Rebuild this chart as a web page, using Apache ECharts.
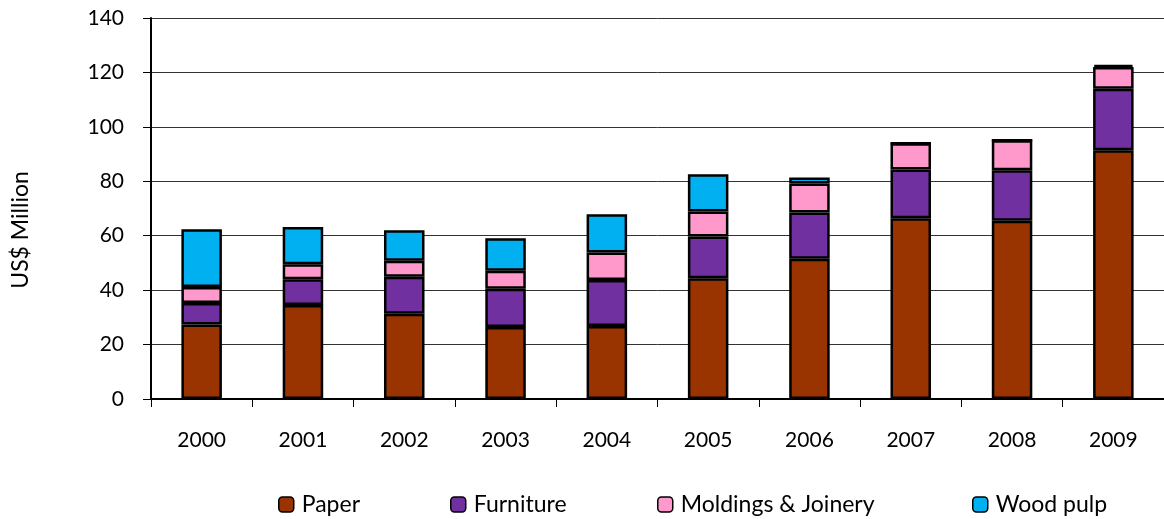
<!DOCTYPE html>
<html lang="en">
<head>
    <meta charset="UTF-8">
    <title>Exports</title>
    <script src="https://cdn.jsdelivr.net/npm/echarts@6/dist/echarts.min.js"></script>
    <style>
        html, body { margin: 0; padding: 0; background: #fff; }
    </style>
</head>
<body>
    <div id="main" style="width: 1164px;height:519px;"></div>
</body>
<script>
    // years on the x axis
    var years = ['2000', '2001', '2002', '2003', '2004', '2005', '2006', '2007', '2008', '2009'];
    // US$ Million
    var paper = [27.4, 34.5, 31.3, 26.5, 26.8, 44.4, 51.5, 66.4, 65.5, 91.4];
    var furniture = [7.9, 9.5, 13.6, 14.0, 16.9, 15.3, 17.0, 17.9, 18.6, 22.6];
    var moldings = [5.9, 5.5, 5.9, 6.6, 10.1, 9.2, 10.7, 9.7, 11.0, 8.0];
    var woodPulp = [21.2, 13.7, 11.2, 12.0, 14.1, 13.7, 2.2, 0, 0, 0.8];

    var names = ['Paper', 'Furniture', 'Moldings & Joinery', 'Wood pulp'];
    var colors = ['#993300', '#7030A0', '#FF99CC', '#00B0F0'];
    var legendLeft = [278, 450, 657, 972];

    var font = 'Lato, "Open Sans", sans-serif';

    function bar(i, data) {
        return {
            name: names[i],
            type: 'bar',
            stack: 'total',
            barWidth: '40%',
            data: data,
            itemStyle: { color: colors[i], borderColor: '#000', borderWidth: 2.5 }
        };
    }

    // one legend per item so each sits where the original has it
    var legends = names.map(function (n, i) {
        return {
            left: legendLeft[i],
            top: 493,
            padding: 0,
            itemWidth: 15,
            itemHeight: 15,
            textStyle: { fontSize: 23, lineHeight: 23, color: '#000', fontFamily: font, padding: [0, 0, 0, 3] },
            itemStyle: { borderColor: '#000', borderWidth: 1.5 },
            data: [n]
        };
    });

    var myChart = echarts.init(document.getElementById('main'));
    var option = {
        animation: false,
        textStyle: { fontFamily: font },
        grid: { left: 151, top: 18, width: 1021, height: 381 },
        legend: legends,
        graphic: [{
            type: 'text',
            x: 21,
            y: 230,
            rotation: Math.PI / 2,
            style: {
                text: 'US$ Million',
                fontSize: 23,
                fontFamily: font,
                fill: '#000',
                align: 'center',
                verticalAlign: 'middle'
            }
        }],
        xAxis: {
            type: 'category',
            data: years,
            axisLine: { lineStyle: { color: '#000', width: 2 } },
            axisTick: { show: true, length: 8, lineStyle: { color: '#000', width: 1 } },
            axisLabel: { fontSize: 21, color: '#000', margin: 31, fontFamily: font }
        },
        yAxis: {
            type: 'value',
            min: 0,
            max: 140,
            interval: 20,
            axisLine: { show: true, lineStyle: { color: '#000', width: 2 } },
            axisTick: { show: true, length: 8, lineStyle: { color: '#000', width: 1 } },
            axisLabel: { fontSize: 21, color: '#000', margin: 27, fontFamily: font },
            splitLine: { show: true, lineStyle: { color: '#333', width: 1 } }
        },
        series: [
            bar(0, paper),
            bar(1, furniture),
            bar(2, moldings),
            bar(3, woodPulp)
        ]
    };
    myChart.setOption(option);
</script>
</html>
